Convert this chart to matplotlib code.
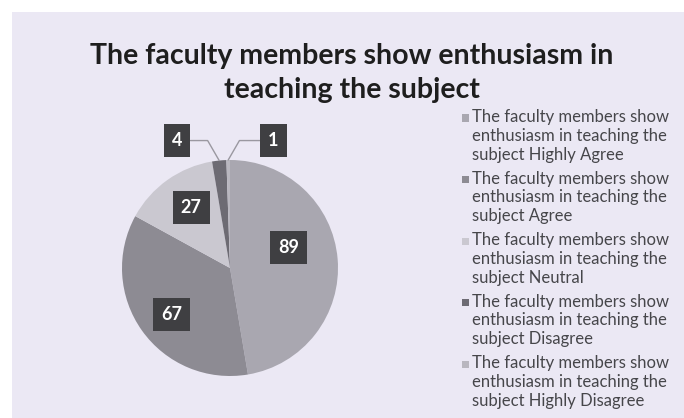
import matplotlib.pyplot as plt
import matplotlib.patches as mpatches
import numpy as np

plt.rcParams['font.family'] = ['Lato', 'DejaVu Sans']

# Data
TITLE = 'The faculty members show enthusiasm in\nteaching the subject'
CATEGORIES = ['Highly Agree', 'Agree', 'Neutral', 'Disagree', 'Highly Disagree']
VALUES = [89, 67, 27, 4, 1]
LEGEND_PREFIX = 'The faculty members show\nenthusiasm in teaching the\nsubject '

# Styling
SLICE_COLORS = ['#a9a7b0', '#8d8b93', '#cac8d0', '#6d6b73', '#b9b7bf']
BG_COLOR = '#ebe8f4'
BOX_COLOR = '#3f3f42'
# label positions in pie units (radius = 1)
LABEL_POS = [(0.54, 0.19), (-0.54, -0.43), (-0.36, 0.56), (-0.49, 1.18), (0.40, 1.18)]
LEADER_ANGLE = [None, None, None, 120, 60]

W, H = 684, 418
fig = plt.figure(figsize=(W / 100, H / 100), dpi=100)
fig.patch.set_facecolor('white')
fig.patches.append(mpatches.Rectangle((12 / W, 0), 1, 1 - 12 / H,
                                      transform=fig.transFigure,
                                      facecolor=BG_COLOR, edgecolor='none',
                                      zorder=-10))

fig.text(352 / W, 1 - 73 / H, TITLE, ha='center', va='center',
         fontsize=20.5, fontweight='bold', color='#1e1e1e', linespacing=1.4)

# Pie: center (230, 268) px, radius 108 px
cx, cy, r = 230, 268, 108
ax = fig.add_axes([(cx - r) / W, 1 - (cy + r) / H, 2 * r / W, 2 * r / H])
wedges, _ = ax.pie(VALUES, colors=SLICE_COLORS, startangle=90, counterclock=False,
                   wedgeprops=dict(linewidth=0))
ax.set_xlim(-1, 1)
ax.set_ylim(-1, 1)
ax.set_aspect('equal')
ax.axis('off')

bbox = dict(boxstyle='square,pad=0.45', facecolor=BOX_COLOR, edgecolor='none')
for w, v, pos, ang in zip(wedges, VALUES, LABEL_POS, LEADER_ANGLE):
    if ang is None:
        ax.text(pos[0], pos[1], str(v), ha='center', va='center', color='white',
                fontsize=13, fontweight='bold', bbox=bbox)
    else:
        mid = np.deg2rad((w.theta1 + w.theta2) / 2)
        xy = (np.cos(mid), np.sin(mid))
        ax.annotate(str(v), xy=xy, xytext=pos, ha='center', va='center',
                    color='white', fontsize=13, fontweight='bold', bbox=bbox,
                    annotation_clip=False,
                    arrowprops=dict(arrowstyle='-', color='#9a98a0', lw=1,
                                    shrinkA=0, shrinkB=0,
                                    connectionstyle=f'angle,angleA=0,angleB={ang},rad=0'))

# Legend, drawn by hand so the marker sits on the first text line
for i, (cat, c) in enumerate(zip(CATEGORIES, SLICE_COLORS)):
    y = 118 + 61.5 * i
    fig.patches.append(mpatches.Rectangle((462 / W, 1 - (y + 3.5) / H), 7 / W, 7 / H,
                                          transform=fig.transFigure,
                                          facecolor=c, edgecolor='none'))
    fig.text(472 / W, 1 - (y - 9) / H, LEGEND_PREFIX + cat, ha='left', va='top',
             fontsize=12, color='#46464a', linespacing=1.23)

fig.savefig('out.png', dpi=100)
